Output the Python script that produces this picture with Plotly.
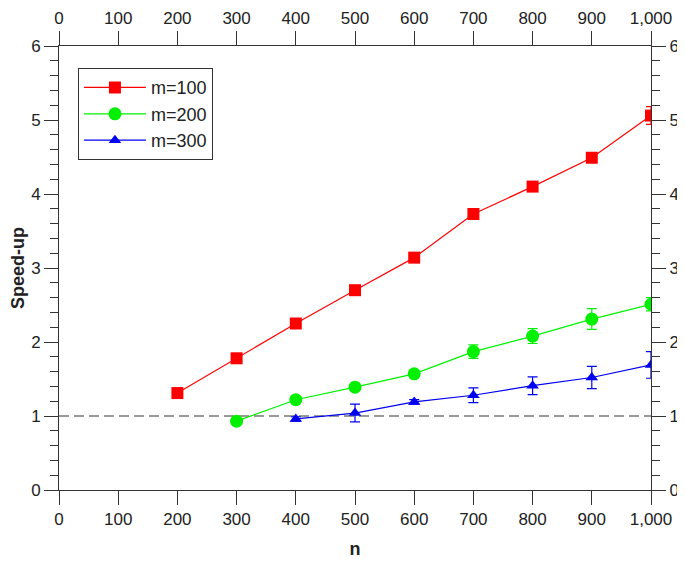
import plotly.graph_objects as go

n_m100 = [200, 300, 400, 500, 600, 700, 800, 900, 1000]
s_m100 = [1.31, 1.78, 2.25, 2.70, 3.14, 3.73, 4.10, 4.49, 5.06]
e_m100 = [0.03, 0.03, 0.03, 0.03, 0.03, 0.04, 0.05, 0.06, 0.12]

n_m200 = [300, 400, 500, 600, 700, 800, 900, 1000]
s_m200 = [0.93, 1.22, 1.39, 1.57, 1.87, 2.08, 2.31, 2.51]
e_m200 = [0.03, 0.03, 0.03, 0.03, 0.09, 0.1, 0.14, 0.09]

n_m300 = [400, 500, 600, 700, 800, 900, 1000]
s_m300 = [0.96, 1.04, 1.19, 1.28, 1.41, 1.52, 1.69]
e_m300 = [0.03, 0.12, 0.03, 0.1, 0.12, 0.15, 0.18]

series = [
    ("m=100", n_m100, s_m100, e_m100, "#FF0000", "square", 12),
    ("m=200", n_m200, s_m200, e_m200, "#00F000", "circle", 13),
    ("m=300", n_m300, s_m300, e_m300, "#0000F0", "triangle-up", 11),
]

fig = go.Figure()
for name, x, y, e, c, sym, sz in series:
    fig.add_trace(go.Scatter(
        x=x, y=y, name=name, mode="lines+markers",
        line=dict(color=c, width=1.2),
        marker=dict(symbol=sym, size=sz, color=c),
        error_y=dict(type="data", array=e, visible=True, color=c, thickness=1.2, width=5),
    ))

# invisible trace for top/right axes
fig.add_trace(go.Scatter(x=[0], y=[0], xaxis="x2", yaxis="y2", mode="markers",
                         marker=dict(opacity=0), showlegend=False, hoverinfo="skip"))

fig.add_shape(type="line", x0=0, x1=1000, y0=1, y1=1, xref="x", yref="y",
              line=dict(color="#999999", width=2, dash="10px,5px"), layer="below")

font = dict(family="Liberation Sans, Arial, sans-serif", size=17, color="#222222")
common_x = dict(range=[0, 1000], tickmode="linear", tick0=0, dtick=100, tickformat=",",
                showline=True, linecolor="#333333", linewidth=1, ticks="outside",
                ticklen=14, tickcolor="#333333", showgrid=False, zeroline=False,
                tickfont=font, automargin=False)
common_y = dict(range=[0, 6], tickmode="linear", tick0=0, dtick=1,
                showline=True, linecolor="#333333", linewidth=1, ticks="outside",
                ticklen=14, tickcolor="#333333", showgrid=False, zeroline=False,
                tickfont=font, automargin=False,
                minor=dict(dtick=0.2, ticks="outside", ticklen=8, tickcolor="#333333", showgrid=False))

fig.update_layout(
    width=685, height=564,
    margin=dict(l=51, r=42, t=38, b=82),
    paper_bgcolor="white", plot_bgcolor="white",
    font=font,
    xaxis=dict(**common_x, title=dict(text="<b>n</b>", font=dict(size=18, color="#222"), standoff=13)),
    yaxis=dict(**common_y, title=dict(text="<b>Speed-up</b>", font=dict(size=18, color="#222"), standoff=8)),
    xaxis2=dict(**common_x, overlaying="x", side="top"),
    yaxis2=dict(**common_y, overlaying="y", side="right"),
    legend=dict(x=0.032, y=0.95, xanchor="left", yanchor="top",
                bordercolor="#333333", borderwidth=1, bgcolor="white",
                font=dict(family="Liberation Sans, Arial, sans-serif", size=18, color="#222"),
                itemwidth=62, tracegroupgap=2),
    showlegend=True,
)

fig.write_html("out.html")
